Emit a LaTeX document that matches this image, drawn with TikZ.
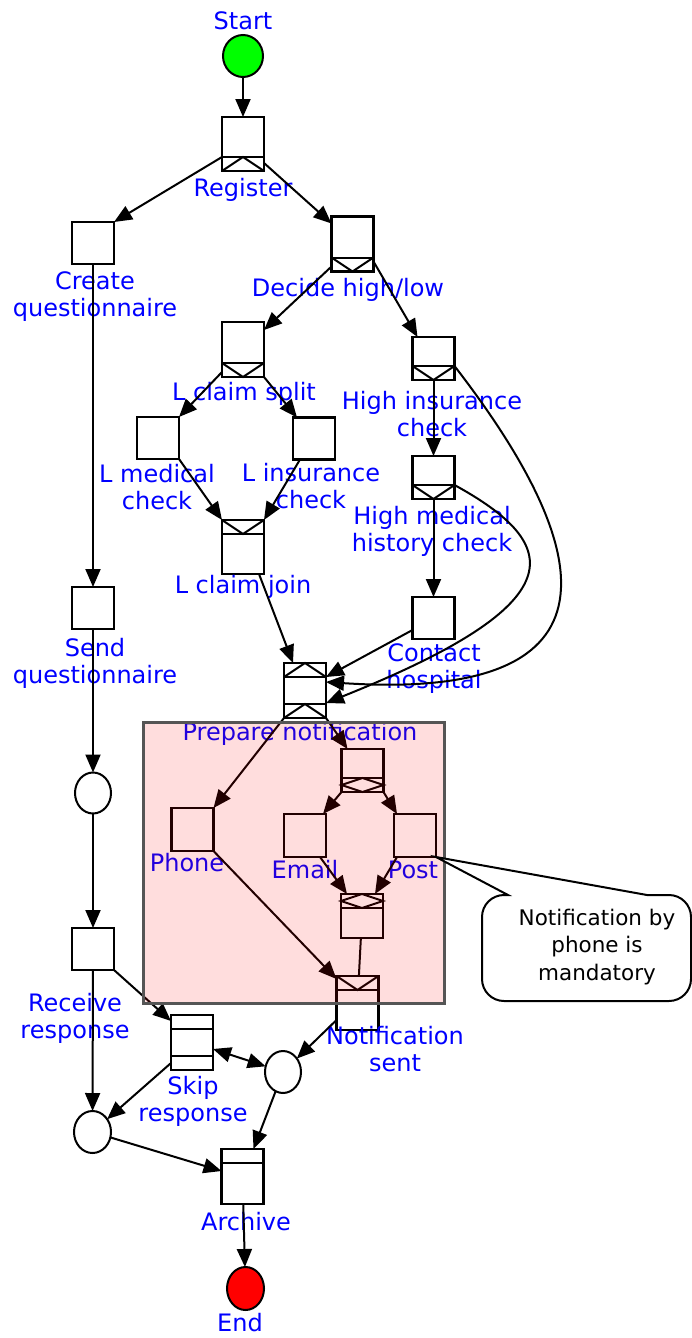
\documentclass[tikz,border=0pt]{standalone}
\usepackage{fontspec}
\setmainfont{DejaVu Sans}
\usetikzlibrary{arrows.meta,shapes.geometric}
\definecolor{lblue}{RGB}{0,0,255}
\definecolor{startgreen}{RGB}{0,255,0}
\definecolor{boxgray}{RGB}{85,85,85}
\newcommand\decTband[1]{\draw[deco] ([yshift=-14pt]#1.north west) -- ([yshift=-14pt]#1.north east);}
\newcommand\decBband[1]{\draw[deco] ([yshift=14pt]#1.south west) -- ([yshift=14pt]#1.south east);}
\newcommand\decTV[1]{\draw[deco] (#1.north west) -- ([yshift=-14pt]#1.north) -- (#1.north east);}
\newcommand\decTA[1]{\draw[deco] ([yshift=-14pt]#1.north west) -- (#1.north) -- ([yshift=-14pt]#1.north east);}
\newcommand\decBV[1]{\draw[deco] ([yshift=14pt]#1.south west) -- (#1.south) -- ([yshift=14pt]#1.south east);}
\newcommand\decBA[1]{\draw[deco] (#1.south west) -- ([yshift=14pt]#1.south) -- (#1.south east);}
\newcommand\decBD[1]{\draw[deco] ([yshift=7pt]#1.south west) -- ([yshift=14pt]#1.south) -- ([yshift=7pt]#1.south east) -- (#1.south) -- cycle;}
\newcommand\decTD[1]{\draw[deco] ([yshift=-7pt]#1.north west) -- (#1.north) -- ([yshift=-7pt]#1.north east) -- ([yshift=-14pt]#1.north) -- cycle;}
\tikzset{
 task/.style={draw, line width=2.2pt, minimum width=42pt, minimum height=42pt, inner sep=0pt, outer sep=0pt},
 cond/.style={ellipse, draw, line width=2pt, minimum width=36pt, minimum height=41pt, inner sep=0pt, outer sep=0pt},
 deco/.style={line width=2pt},
 edge/.style={line width=2pt, -{Triangle[length=18pt,width=15pt]}},
 plain/.style={line width=2pt},
 lbl/.style={text=lblue, font=\fontsize{24}{27}\selectfont, align=center, inner sep=0pt},
 notetext/.style={text=black, font=\fontsize{21.5}{27.5}\selectfont, align=center, inner sep=0pt},
}
\begin{document}
\begin{tikzpicture}[x=1pt,y=-1pt]
\useasboundingbox (0,0) rectangle (692,1338);
% ---------- nodes ----------
\node[cond, fill=startgreen, minimum width=40pt, minimum height=42pt] (start) at (243,56) {};
\node[lbl] (lstart) at (243,21) {Start};
\node[task, minimum height=54pt] (reg) at (243,144) {};
\node[lbl] (lreg) at (243,190) {Register};
\node[task] (cq) at (93,243) {};
\node[lbl] (lcq) at (95,297) {Create\\questionnaire};
\node[task, minimum height=55pt] (dec) at (352.5,244) {};
\node[lbl] (ldec) at (348,290) {Decide high/low};
\node[task, minimum height=55pt] (lcs) at (243,349.5) {};
\node[lbl] (llcs) at (244,394) {L claim split};
\node[task, minimum height=43pt] (hic) at (433.5,358.5) {};
\node[lbl] (lhic) at (432,414) {High insurance\\check};
\node[task] (lmed) at (158,438) {};
\node[lbl] (llmed) at (157,487) {L medical\\check};
\node[task] (lins) at (314,438.5) {};
\node[lbl] (llins) at (311,486) {L insurance\\check};
\node[task, minimum height=43pt] (hmed) at (433.5,477.5) {};
\node[lbl] (lhmed) at (432,531) {High medical\\history check};
\node[task, minimum height=54pt] (lcj) at (243,547) {};
\node[lbl] (llcj) at (243,587) {L claim join};
\node[task] (sq) at (93,608) {};
\node[lbl] (lsq) at (95,663) {Send\\questionnaire};
\node[task] (contact) at (433.5,618) {};
\node[lbl] (lcontact) at (434,669) {Contact\\hospital};
\node[task, minimum height=55pt] (prep) at (305,690.5) {};
\node[lbl] (lprep) at (300,734) {Prepare notification};
\node[task, minimum height=43pt] (ors) at (362.5,770.5) {};
\node[task, minimum height=43pt] (phone) at (192.5,829.5) {};
\node[lbl] (lphone) at (187,863) {Phone};
\node[task, minimum height=43pt] (email) at (305,835.5) {};
\node[lbl] (lemail) at (305,870) {Email};
\node[task, minimum height=43pt] (post) at (415,835.5) {};
\node[lbl] (lpost) at (413,870) {Post};
\node[task, minimum height=44pt] (orj) at (362,916) {};
\node[task, minimum height=54pt] (fj) at (357.5,1003) {};
\node[lbl] (lfj) at (395,1049) {Notification\\sent};
\node[cond] (c1) at (93,793) {};
\node[task] (recv) at (93,949) {};
\node[lbl] (lrecv) at (75,1018) {Receive\\response};
\node[task, minimum height=55pt] (skip) at (192,1042.5) {};
\node[lbl] (lskip) at (193,1101) {Skip\\response};
\node[cond, minimum height=42pt] (c2) at (283,1072) {};
\node[cond, minimum width=37pt, minimum height=42pt] (c3) at (92.5,1132) {};
\node[task, minimum height=55pt] (arch) at (242.5,1176.5) {};
\node[lbl] (larch) at (246,1222) {Archive};
\node[cond, fill=red, minimum width=37pt, minimum height=43pt] (end) at (245.5,1288.5) {};
\node[lbl] (lend) at (240,1323) {End};
% ---------- split / join decorators ----------
\decBband{reg}\decBA{reg}
\decBband{dec}\decBV{dec}
\decBband{lcs}\decBV{lcs}
\decBband{hic}\decBV{hic}
\decBband{hmed}\decBV{hmed}
\decTband{lcj}\decTV{lcj}
\decTband{prep}\decTA{prep}\decBband{prep}\decBA{prep}
\decBband{ors}\decBD{ors}
\decTband{orj}\decTD{orj}
\decTband{fj}\decTV{fj}
\decTband{skip}\decBband{skip}
\decTband{arch}
% ---------- connectors ----------
\draw[edge] (start) -- (reg);
\draw[edge] ([yshift=14pt]reg.south west) -- (cq.north east);
\draw[edge] ([yshift=8pt]reg.south east) -- ([yshift=-7pt]dec.north west);
\draw[edge] (cq) -- (sq);
\draw[edge] ([yshift=5pt]dec.south west) -- ([yshift=-8pt]lcs.north east);
\draw[edge] ([yshift=10pt]dec.south east) -- ([xshift=5pt]hic.north west);
\draw[edge] ([yshift=5pt]lcs.south west) -- (lmed.north east);
\draw[edge] (lcs.south east) -- ([xshift=4pt]lins.north west);
\draw[edge] (lmed.south east) -- (lcj.north west);
\draw[edge] ([xshift=7pt]lins.south west) -- (lcj.north east);
\draw[edge] ([xshift=-5pt]lcj.south east) -- ([xshift=9pt]prep.north west);
\draw[edge] (hic) -- (hmed);
\draw[edge] (hmed) -- (contact);
\draw[edge] ([yshift=-12pt]contact.west) -- ([yshift=-14pt]prep.north east);
\draw[edge] ([yshift=14pt]hic.south east) .. controls (620,580) and (600,700) .. ([yshift=-19pt]prep.north east);
\draw[edge] ([yshift=14pt]hmed.south east) .. controls (564,545) and (576,603) .. ([yshift=15pt]prep.south east);
\draw[edge] (prep.south east) -- ([xshift=6pt]ors.north west);
\draw[edge] (prep.south west) -- (phone.north east);
\draw[edge] (ors.south west) -- ([xshift=-3pt]email.north east);
\draw[edge] (ors.south east) -- ([xshift=3pt]post.north west);
\draw[edge] ([xshift=-6pt]email.south east) -- ([xshift=6pt]orj.north west);
\draw[edge] ([xshift=3pt]post.south west) -- ([xshift=-8pt]orj.north east);
\draw[plain] (orj) -- (fj);
\draw[edge] (phone.south east) -- ([yshift=-3pt]fj.north west);
\draw[edge] ([yshift=10pt]fj.south west) -- (c2);
\draw[edge] (sq) -- (c1);
\draw[edge] (c1) -- (recv);
\draw[edge] (recv) -- (c3);
\draw[edge] (recv.south east) -- ([yshift=-6pt]skip.north west);
\draw[line width=2pt, {Triangle[length=18pt,width=15pt]}-{Triangle[length=18pt,width=15pt]}] ([yshift=-6.5pt]skip.east) -- (c2);
\draw[edge] ([yshift=7pt]skip.south west) -- (c3);
\draw[edge] (c2) -- ([xshift=-10pt]arch.north east);
\draw[edge] (c3) -- ([yshift=-22pt]arch.north west);
\draw[edge] (arch) -- (end);
% ---------- group box (translucent) ----------
\node[minimum width=301pt, minimum height=281pt, inner sep=0pt, fill=red, fill opacity=0.135, draw=boxgray, draw opacity=1, line width=3pt] (grp) at (293.5,862.5) {};
% ---------- note callout ----------
\filldraw[fill=white, line width=2pt] (post.south east) -- (508,895) [rounded corners=22pt] -- (482,895) -- (482,1001) -- (691,1001) -- (691,895) [sharp corners] -- (647,895) -- cycle;
\node[notetext] (note) at (597,947) {Notification by\\phone is\\mandatory};
\end{tikzpicture}
\end{document}
